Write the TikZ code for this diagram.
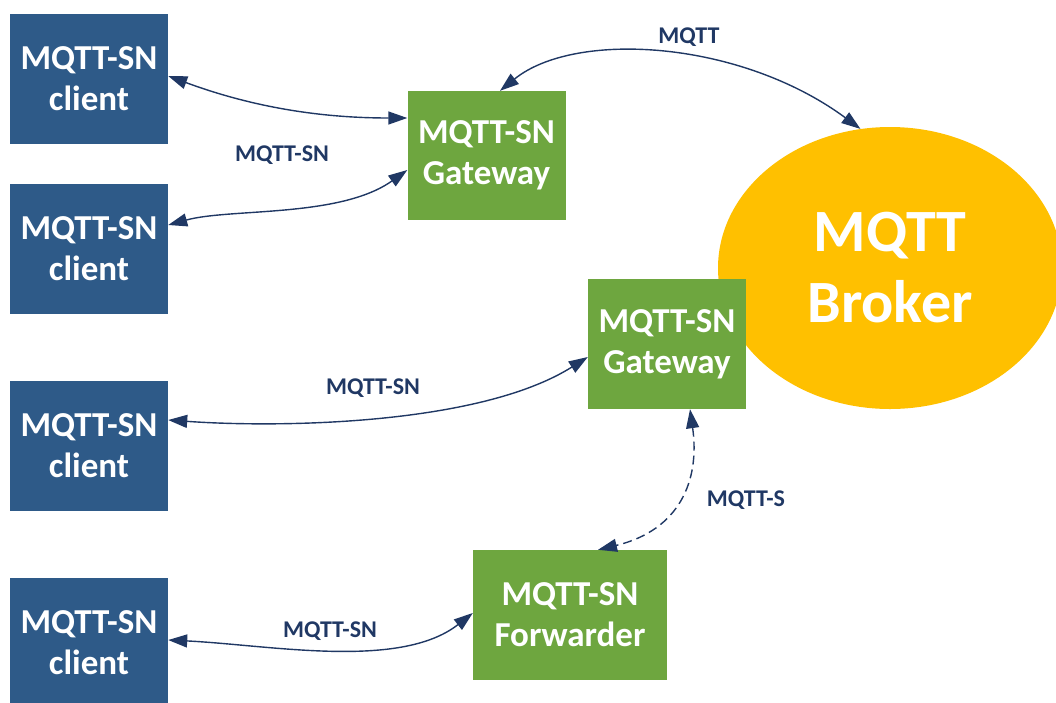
\documentclass[tikz,border=0pt]{standalone}
\usepackage{fontspec}
\setmainfont{Carlito}
\usetikzlibrary{arrows.meta,shapes.geometric}
\definecolor{clientblue}{HTML}{2E5A88}
\definecolor{gwgreen}{HTML}{6EA63F}
\definecolor{brokeryellow}{HTML}{FFC000}
\definecolor{linkblue}{HTML}{203864}
\begin{document}
\begin{tikzpicture}[x=1pt,y=-1pt,
  client/.style={fill=clientblue, minimum width=158pt, minimum height=130pt,
    inner sep=0pt, text=white, align=center,
    font=\fontsize{35}{41}\selectfont\bfseries},
  gwbox/.style={fill=gwgreen, minimum width=158pt, minimum height=129pt,
    inner sep=0pt, text=white, align=center,
    font=\fontsize{35}{41}\selectfont\bfseries},
  broker/.style={ellipse, fill=brokeryellow, minimum width=344pt,
    minimum height=282pt, inner sep=0pt, text=white, align=center,
    font=\fontsize{60}{71}\selectfont\bfseries},
  lbl/.style={text=linkblue, inner sep=0pt,
    font=\fontsize{24}{29}\selectfont\bfseries},
  link/.style={draw=linkblue, line width=1.4pt,
    {Triangle[length=19pt,width=13pt]}-{Triangle[length=19pt,width=13pt]}},
  dashedlink/.style={link, dash pattern=on 9pt off 5pt}
]
\useasboundingbox (0,0) rectangle (1056,702);
\clip (0,0) rectangle (1056,702);

% broker first, so the lower gateway sits on top of it
\node[broker] (br) at (890,268) {MQTT\\Broker};

% clients
\node[client] (c1) at (89,79)  {MQTT-SN\\client};
\node[client] (c2) at (89,249) {MQTT-SN\\client};
\node[client] (c3) at (89,446) {MQTT-SN\\client};
\node[client] (c4) at (89,643) {MQTT-SN\\client};

% gateways and forwarder
\node[gwbox] (g1) at (486.5,155.5) {MQTT-SN\\Gateway};
\node[gwbox, minimum height=130pt] (g2) at (667,344) {MQTT-SN\\Gateway};
\node[gwbox, minimum width=194pt, minimum height=130pt] (fw) at (570,615) {MQTT-SN\\Forwarder};

% protocol labels
\node[lbl] (l1) at (282,155) {MQTT-SN};
\node[lbl] (l2) at (689,37)  {MQTT};
\node[lbl] (l3) at (373,388) {MQTT-SN};
\node[lbl] (l4) at (330,631) {MQTT-SN};
\node[lbl] (l5) at (746,500) {MQTT-S};

% connections
\draw[link] ([yshift=3pt]c1.east) .. controls (260,110) and (330,118) .. ([yshift=37.5pt]g1.west);
\draw[link] ([yshift=24pt]c2.east) .. controls (230,208) and (340,218) .. ([yshift=-14.5pt]g1.west);
\draw[link] ([xshift=13.5pt]g1.north) .. controls (575,30) and (740,40) .. (br.102);
\draw[link] ([yshift=26pt]c3.east) .. controls (280,428) and (480,425) .. ([yshift=-13pt]g2.west);
\draw[dashedlink] ([xshift=23pt]g2.south) .. controls (700,480) and (680,530) .. ([xshift=28pt]fw.north);
\draw[link] ([yshift=3pt]c4.east) .. controls (270,645) and (400,670) .. ([yshift=2pt]fw.west);
\end{tikzpicture}
\end{document}
